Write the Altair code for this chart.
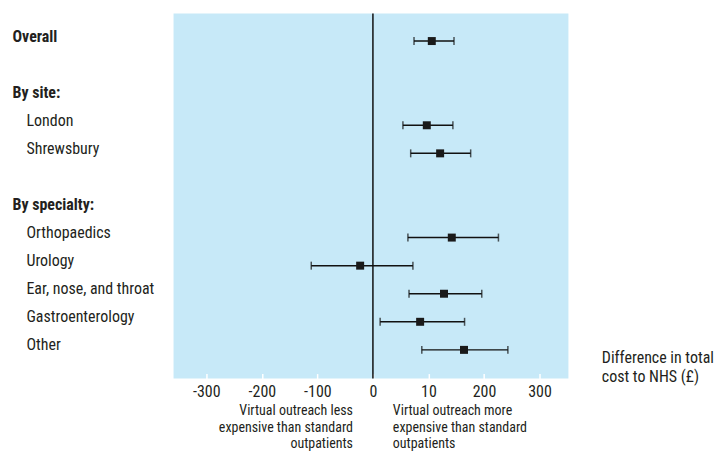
import json
import altair as alt
import pandas as pd

# ---- data ----
rows = ["Overall", " ", "By site:", "London", "Shrewsbury", "  ",
        "By specialty:", "Orthopaedics", "Urology", "Ear, nose, and throat",
        "Gastroenterology", "Other"]
headings = ["Overall", "By site:", "By specialty:"]
groups = ["Overall", "London", "Shrewsbury", "Orthopaedics", "Urology",
          "Ear, nose, and throat", "Gastroenterology", "Other"]
estimate = [106, 97, 121, 142, -23, 128, 85, 164]
ci_low = [74, 54, 68, 63, -111, 65, 13, 88]
ci_high = [146, 144, 176, 226, 72, 196, 165, 243]
tick_values = [-300, -200, -100, 0, 100, 200, 300]
tick_labels = ["-300", "-200", "-100", "0", "10", "200", "300"]
left_note = ["Virtual outreach less", "expensive than standard", "outpatients"]
right_note = ["Virtual outreach more", "expensive than standard", "outpatients"]
axis_title = ["Difference in total", "cost to NHS (\u00a3)"]

df = pd.DataFrame({"group": groups, "est": estimate, "lo": ci_low, "hi": ci_high})
one = pd.DataFrame({"k": [0]})

FONT = "Liberation Sans Narrow, Roboto Condensed, Arial Narrow, Roboto, sans-serif"
FS = 16
INK = "#231f20"

label_map = "{" + ",".join(f"'{v}':'{l}'" for v, l in zip(tick_values, tick_labels)) + "}"

x_scale = alt.Scale(domain=[-359, 352], nice=False, zero=False)
x_axis = alt.Axis(
    values=tick_values,
    labelExpr=f"{label_map}[datum.value + '']",
    domain=False, grid=False,
    ticks=True, tickColor="white", tickSize=5, tickWidth=1.5,
    offset=-5, labelPadding=5,
    labelFont=FONT, labelFontSize=FS, labelColor=INK,
    title=axis_title, titleFont=FONT, titleFontSize=FS, titleFontWeight="normal",
    titleColor=INK, titleX=429, titleY=-11, titleAlign="left",
    titleBaseline="alphabetic", titleLineHeight=19, titleAngle=0,
)

head_test = "indexof(" + json.dumps(headings) + ", datum.value) >= 0"
y_scale = alt.Scale(type="point", domain=rows, padding=1.05, align=0.40)
y_axis = alt.Axis(
    title=None, domain=False, ticks=False, tickSize=0, grid=False,
    labelAlign="left", labelBaseline="middle",
    labelPadding={"condition": {"test": head_test, "value": 162}, "value": 148},
    labelFontWeight={"condition": {"test": head_test, "value": "bold"}, "value": "normal"},
    labelFont=FONT, labelFontSize=FS, labelColor=INK, labelLimit=200,
)

base = alt.Chart(df)
y_enc = alt.Y("group:N", scale=y_scale, axis=y_axis)

ci_line = base.mark_rule(color="#111111", strokeWidth=1.5, yOffset=5).encode(
    x=alt.X("lo:Q", scale=x_scale, axis=x_axis),
    x2="hi:Q",
    y=y_enc,
)
cap_lo = base.mark_tick(color="#111111", thickness=1.5, size=8, orient="vertical", yOffset=5).encode(
    x="lo:Q", y=alt.Y("group:N")
)
cap_hi = base.mark_tick(color="#111111", thickness=1.5, size=8, orient="vertical", yOffset=5).encode(
    x="hi:Q", y=alt.Y("group:N")
)
zero = alt.Chart(one).mark_rule(color="#111111", strokeWidth=1.5).encode(x=alt.datum(0))
points = base.mark_square(color="#1a1a1a", size=64, opacity=1, yOffset=5).encode(
    x="est:Q", y=alt.Y("group:N")
)
note_left = alt.Chart(one).mark_text(
    text=left_note, align="right", baseline="top", dx=-20, y=392, lineHeight=16.5,
    font=FONT, fontSize=14, fontWeight="normal", color=INK,
).encode(x=alt.datum(0))
note_right = alt.Chart(one).mark_text(
    text=right_note, align="left", baseline="top", dx=20, y=392, lineHeight=16.5,
    font=FONT, fontSize=14, fontWeight="normal", color=INK,
).encode(x=alt.datum(0))

chart = alt.layer(ci_line, zero, cap_lo, cap_hi, points, note_left, note_right).properties(
    width=396, height=366,
    autosize=alt.AutoSizeParams(type="none"),
    padding={"left": 166, "top": 5, "right": 150, "bottom": 72},
).configure_view(fill="#c7e9f8", stroke=None)

chart.save("out.html", embed_options={"renderer": "svg", "actions": False})
